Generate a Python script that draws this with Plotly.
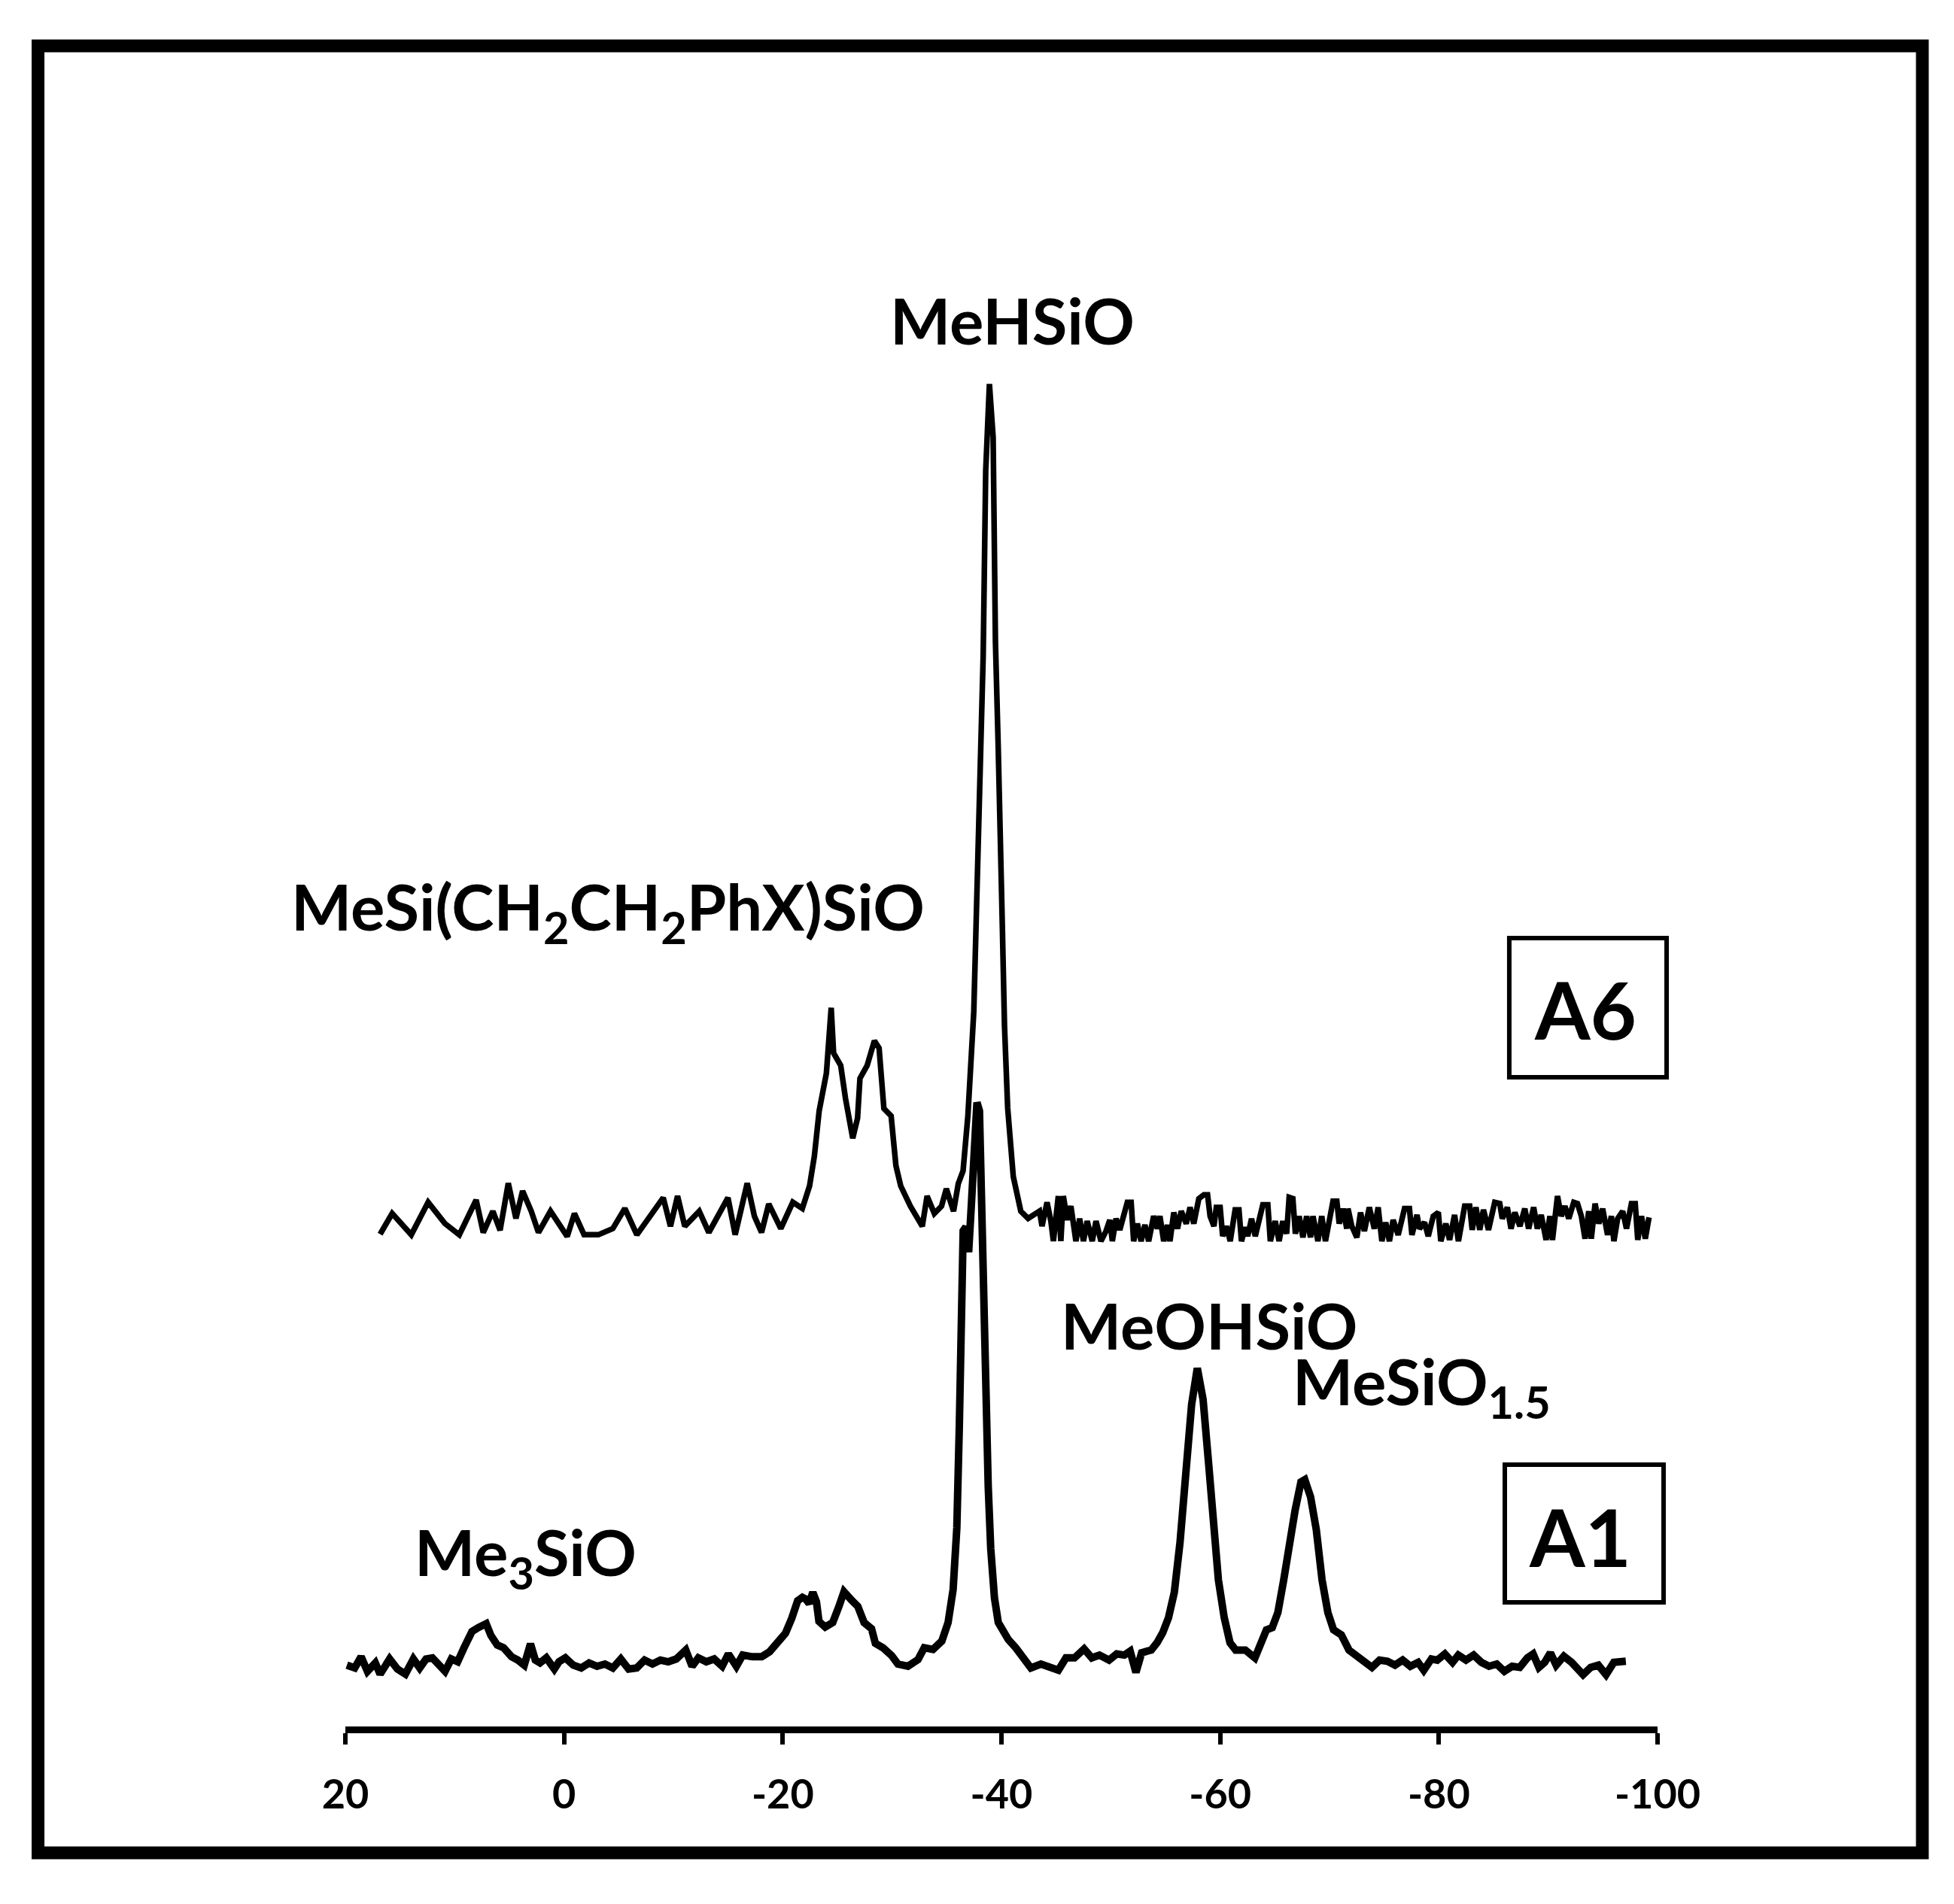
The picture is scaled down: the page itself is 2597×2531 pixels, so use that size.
import plotly.graph_objects as go

# ---------------- data ----------------
# chemical shift (ppm) and relative intensity, spectrum A1 (bottom)
a1_ppm = [19.86, 19.14, 18.56, 17.98, 17.26, 16.82, 15.95, 15.23, 14.51, 13.78, 13.20, 12.62,
          12.04, 11.32, 10.88, 10.31, 9.73, 9.15, 8.42, 7.84, 7.12, 6.69, 6.11, 5.53, 4.80,
          4.22, 3.64, 3.07, 2.63, 2.20, 1.62, 0.89, 0.46, -0.12, -0.84, -1.57, -2.29, -3.02,
          -3.74, -4.46, -5.19, -5.91, -6.64, -7.36, -8.09, -8.81, -9.53, -10.26, -11.13,
          -11.71, -12.28, -13.01, -13.73, -14.46, -15.03, -15.76, -16.34, -17.21, -18.08,
          -18.80, -19.52, -20.25, -20.83, -21.36, -21.80, -22.10, -22.42, -22.75, -23.08,
          -23.31, -23.88, -24.57, -25.14, -25.60, -26.29, -26.86, -27.44, -28.12, -28.47,
          -29.16, -29.96, -30.53, -31.45, -32.37, -32.94, -33.74, -34.55, -35.12, -35.58,
          -35.92, -36.15, -36.38, -36.50, -36.75, -37.00, -37.25, -37.53, -37.76, -37.99,
          -38.15, -38.33, -38.56, -38.79, -39.02, -39.36, -39.71, -40.17, -40.62, -41.31,
          -42.00, -42.69, -43.61, -44.30, -45.21, -45.90, -46.68, -47.56, -48.26, -48.96,
          -49.84, -50.54, -51.24, -51.77, -52.30, -52.82, -53.70, -54.23, -54.75, -55.28,
          -55.81, -56.33, -56.86, -57.39, -57.91, -58.44, -58.97, -59.49, -59.84, -60.37,
          -60.90, -61.42, -62.30, -63.18, -63.70, -64.23, -64.76, -65.28, -65.81, -66.34,
          -66.86, -67.39, -67.74, -68.27, -68.79, -69.32, -69.85, -70.37, -71.08, -71.78,
          -72.48, -73.18, -73.88, -74.58, -75.29, -75.99, -76.69, -77.39, -78.10, -78.62,
          -79.32, -79.85, -80.55, -81.25, -81.78, -82.48, -83.18, -83.89, -84.59, -85.29,
          -85.99, -86.70, -87.40, -88.10, -88.62, -89.15, -89.68, -90.20, -90.73, -91.43,
          -92.14, -93.19, -93.89, -94.59, -95.29, -96.00, -96.70, -97.10]
a1_int = [-0.2, -0.7, 1.3, -1.3, 0.2, -1.8, 0.9, -0.9, -1.8, 0.9, -0.7, 0.9,
          1.1, -0.7, -1.3, 0.9, 0.4, 2.9, 5.8, 6.5, 7.2, 5.1, 3.4, 2.9, 1.3,
          0.7, -0.2, 3.6, 0.7, 0.2, 1.1, -0.9, 0.4, 1.1, -0.2, -0.7, 0.2, -0.4,
          0.0, -0.7, 0.9, -0.9, -0.7, 0.7, 0.0, 0.7, 0.4, 0.9, 2.5,
          -0.4, 1.1, 0.4, 0.9, -0.4, 1.8, -0.4, 1.6, 1.3, 1.3,
          2.2, 3.9, 5.5, 8.2, 11.3, 11.9, 11.6, 10.8, 12.8, 11.1,
          7.6, 6.6, 7.4, 10.3, 12.9, 11.4, 10.3, 7.4, 6.3, 3.7,
          2.9, 1.5, 0.0, -0.4, 0.8, 2.9, 2.6, 4.1, 7.4, 13.3,
          24.3, 42.7, 64.8, 77.3, 78.0, 73.5, 82.0, 94.3, 100.2, 98.7,
          83.2, 64.8, 46.4, 31.7, 20.6, 11.8, 7.4, 5.9, 4.4, 2.9,
          1.1, -0.7, 0.0, -0.4, -1.1, 1.1, 1.1, 2.7, 1.1, 1.6,
          0.7, 1.8, 1.6, 2.3, -1.5, 2.0, 2.5, 3.8, 5.6, 8.3,
          12.8, 21.7, 35.2, 46.3, 52.8, 47.2, 35.2, 24.0, 15.0, 8.3,
          3.8, 2.5, 2.5, 1.1, 3.8, 6.1, 6.5, 9.2, 15.0, 21.7,
          27.5, 32.5, 32.9, 29.8, 24.0, 15.0, 9.2, 6.1, 5.2, 2.5,
          1.4, 0.5, -0.6, 0.7, 0.5, -0.2, 0.7, -0.4, 0.3, -1.1,
          0.9, 0.7, 1.8, 0.3, 1.6, 0.7, 1.6, 0.3, -0.4, 0.0,
          -1.3, -0.4, -0.6, 1.1, 1.8, -0.6, 0.3, 2.0, -0.2, 1.4,
          0.3, -1.9, -0.6, -0.2, -1.9, 0.3, 0.3, 0.5]

# spectrum A6 (top)
a6_ppm = [16.82, 15.72, 13.97, 12.43, 10.90, 9.58, 8.04, 7.39, 6.51, 5.85, 5.10, 4.40,
          3.79, 3.00, 2.34, 1.24, -0.29, -0.95, -1.83, -3.14, -4.46, -5.56, -6.66, -7.75,
          -9.07, -9.73, -10.38, -11.04, -12.36, -13.24, -14.11, -14.99, -15.65, -16.75,
          -17.41, -18.06, -18.72, -19.82, -20.92, -21.79, -22.45, -22.89, -23.33, -23.99,
          -24.43, -24.65, -25.30, -25.74, -26.40, -26.84, -27.06, -27.72, -28.38, -28.81,
          -29.25, -29.91, -30.35, -30.79, -31.67, -32.76, -33.20, -33.86, -34.52, -34.96,
          -35.62, -36.05, -36.49, -36.93, -37.47, -37.70, -38.04, -38.33, -38.56, -38.90,
          -39.24, -39.35, -39.45, -39.70, -39.93, -40.09, -40.28, -40.57, -41.08, -41.77,
          -42.44,
          -43.48, -43.71, -44.17, -44.52, -44.75, -45.20, -45.43, -45.66, -46.01, -46.35,
          -46.81, -47.15, -47.50, -47.84, -48.30, -48.65, -49.10, -49.56, -49.91, -50.14,
          -50.48, -50.82, -51.17, -51.51, -51.86, -52.09, -52.43, -52.77, -53.12, -53.46,
          -53.92, -54.26, -54.49, -54.84, -55.18, -55.41, -55.76, -56.10, -56.44, -56.90,
          -57.25, -57.59, -58.05, -58.51, -58.85, -59.08, -59.43, -59.65, -60.00, -60.23,
          -60.57, -60.92, -61.37, -61.72, -61.95, -62.29, -62.52, -62.87, -63.21, -63.55,
          -63.90, -64.36, -64.59, -65.04, -65.39, -65.73, -66.08, -66.31, -66.65, -66.88,
          -67.22, -67.57, -67.91, -68.26, -68.49, -68.94, -69.29, -69.63, -69.98, -70.32,
          -70.67, -70.89, -71.24, -71.58,
          -71.69, -72.04, -72.50, -72.84, -73.19, -73.64, -74.10, -74.45, -74.79, -75.14,
          -75.48, -75.82, -76.28, -76.86, -77.31, -77.54, -78.00, -78.23, -78.69, -79.03,
          -79.49, -79.95, -80.18, -80.64, -80.98, -81.44, -81.79, -82.36, -82.82, -83.05,
          -83.39, -83.74, -84.08, -84.54, -85.11, -85.57, -85.80, -86.26, -86.60, -86.95,
          -87.41, -87.86, -88.21, -88.67, -89.01, -89.36, -89.81, -90.16, -90.39, -90.85,
          -91.19, -91.53, -91.88, -92.34, -92.68, -93.03, -93.37, -93.71, -93.94, -94.29,
          -94.63, -94.98, -95.43, -95.78, -96.01, -96.35, -96.81, -97.16, -97.61, -97.96,
          -98.19, -98.53, -98.88, -99.22]
a6_int = [-1.7, 2.0, -1.8, 4.0, 0.2, -1.8, 4.4, -1.4, 2.4, -1.0, 7.4, 1.1,
          6.0, 2.4, -1.4, 2.4, -2.1, 2.0, -1.8, -1.8, -0.7, 2.9, -1.8, 1.1,
          4.8, -0.3, 5.1, -0.3, 2.4, -1.4, 1.5, 4.8, -1.8, 7.4,
          1.5, -1.4, 3.7, -0.7, 4.0, 2.9, 6.9, 12.2, 20.3, 27.0,
          38.7, 30.6, 28.4, 22.5, 15.4, 19.0, 26.1, 28.4, 32.8, 31.5,
          20.7, 19.4, 10.5, 6.9, 3.3, -0.3, 5.1, 2.0, 3.3, 6.4,
          2.4, 7.3, 9.6, 19.4, 38.0, 55.0, 75.8, 101.5, 134.5, 150.0,
          140.5, 122.3, 104.0, 85.5, 69.7, 52.5, 35.4, 20.8, 8.6, 2.4,
          1.1,
          2.42, -0.27, 3.98, 0.63, -2.95, 5.10, -2.95, 5.10, 0.85, 3.31,
          -2.95, 1.07, -2.95, 0.63, -2.95, 0.63, -2.95, -1.16, 0.85, -2.95,
          1.07, -0.94, 1.52, 3.98, 3.98, -2.95, 0.18, -2.95, -0.04, -2.95,
          1.52, -0.72, 1.52, -2.95, -0.04, -2.95, 2.18, -0.72, 2.42, 0.18,
          3.09, 0.18, 4.65, 5.32, 5.32, 1.52, -0.27, 3.09, 3.09, -2.06,
          -0.27, -2.95, 2.64, 2.64, -2.95, -0.49, -2.06, 1.07, -2.06, 1.07,
          3.54, 3.54, -2.95, 0.63, -2.95, 0.63, -1.61, 4.87, 4.65, -1.61,
          1.52, -2.28, 1.52, -2.28, 1.52, -2.95, 1.52, -2.95, 1.52, 4.20,
          4.20, 0.18, 2.86, -0.72,
          2.86, -0.27, -2.28, 2.18, -1.16, 3.09, -0.72, 3.09, -2.95, 0.40,
          -2.95, 0.85, -1.83, 2.86, 2.86, -1.83, 1.74, -0.72, 0.40, -2.06,
          1.52, 2.18, -2.95, 0.18, -2.73, 1.74, -2.95, 3.31, 3.31, -0.94,
          3.09, -0.94, 2.64, -0.94, 3.98, 3.76, 1.07, 3.09, -0.72, 2.18,
          -0.27, 2.86, -0.72, 3.09, -0.72, 1.74, -2.73, 1.52, -2.73, 5.10,
          1.52, 3.31, 1.07, 3.98, 3.76, 1.52, -2.50, 2.40, -2.50, 3.76,
          0.18, 2.86, -1.83, 1.52, -2.95, 1.07, 2.40, -0.72, 3.76, 3.76,
          -2.73, 1.52, -2.50, 1.30]
a6_offset = 78.4   # vertical stacking offset of the A6 trace

tick_vals = [20, 0, -20, -40, -60, -80, -100]
tick_text = ["20", "0", "-20", "-40", "-60", "-80", "-100"]

# ---------------- figure ----------------
FONT = "Lato"

fig = go.Figure()
fig.add_trace(go.Scatter(x=a1_ppm, y=a1_int, mode="lines",
                         line=dict(color="black", width=10), name="A1",
                         showlegend=False, hoverinfo="skip"))
fig.add_trace(go.Scatter(x=a6_ppm, y=[v + a6_offset for v in a6_int], mode="lines",
                         line=dict(color="black", width=7.5), name="A6",
                         showlegend=False, hoverinfo="skip"))

lab_font = dict(family=FONT, size=85, color="black", weight="bold")
box_font = dict(family=FONT, size=106, color="black", weight="bold")

annotations = [
    dict(x=-41.0, y=239.9, text="MeHSiO", font=lab_font),
    dict(x=-3.98, y=134.4, text="MeSi(CH<sub>2</sub>CH<sub>2</sub>PhX)SiO", font=lab_font),
    dict(x=-59.0, y=60.5, text="MeOHSiO", font=lab_font),
    dict(x=-78.4, y=49.7, text="MeSiO<sub>1.5</sub>", font=lab_font),
    dict(x=3.55, y=19.3, text="Me<sub>3</sub>SiO", font=lab_font),
    dict(x=-93.4, y=116.9, text="A6", font=box_font),
    dict(x=-92.9, y=22.8, text="A1", font=box_font),
]
for a in annotations:
    a.update(xref="x", yref="y", showarrow=False, xanchor="center", yanchor="middle")

shapes = [
    # outer frame
    dict(type="rect", xref="paper", yref="paper", x0=-0.2342, x1=1.2018, y0=-0.0765, y1=1.0178,
         line=dict(color="black", width=17), fillcolor="rgba(0,0,0,0)"),
    # A6 box
    dict(type="rect", xref="paper", yref="paper", x0=0.8870, x1=1.0069, y0=0.3932, y1=0.4774,
         line=dict(color="black", width=6), fillcolor="rgba(0,0,0,0)"),
    # A1 box
    dict(type="rect", xref="paper", yref="paper", x0=0.8836, x1=1.0046, y0=0.0752, y1=0.1585,
         line=dict(color="black", width=6), fillcolor="rgba(0,0,0,0)"),
]

fig.update_layout(
    width=2597, height=2531,
    margin=dict(l=459, r=394, t=100, b=236, pad=0),
    paper_bgcolor="white", plot_bgcolor="white",
    annotations=annotations, shapes=shapes,
    xaxis=dict(range=[20, -100], tickmode="array", tickvals=tick_vals, ticktext=tick_text,
               showline=True, linecolor="black", linewidth=9,
               ticks="outside", ticklen=15, tickwidth=6, tickcolor="black",
               ticklabelstandoff=20,
               showgrid=False, zeroline=False,
               tickfont=dict(family=FONT, size=54, color="black", weight="bold")),
    yaxis=dict(range=[-11.14, 283.49], visible=False, showgrid=False, zeroline=False),
)

fig.write_html("out.html", config={"displayModeBar": False},
               post_script="document.body.style.margin='0px';")
